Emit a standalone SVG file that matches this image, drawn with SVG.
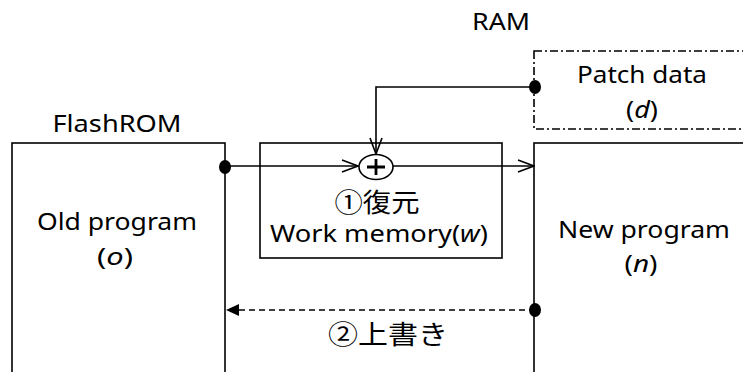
<svg xmlns="http://www.w3.org/2000/svg" width="743" height="372" viewBox="0 0 743 372">
<style>
.box{fill:#fff;stroke:#000;stroke-width:1.6}
.dd{fill:#fff;stroke:#000;stroke-width:1.6;stroke-dasharray:8,3,2,3}
.t{font-family:"Noto Sans","Noto Sans CJK JP",sans-serif;font-size:23.5px;fill:#000;text-anchor:middle}
.j{font-family:"Noto Sans CJK JP",sans-serif;font-size:26px;fill:#000;text-anchor:middle}
.ln{fill:none;stroke:#000;stroke-width:1.6}
.dash{fill:none;stroke:#000;stroke-width:1.6;stroke-dasharray:6,4}
.dot{fill:#000}
</style>
<defs>
<marker id="open" viewBox="0 0 18 14" refX="17" refY="7" markerWidth="18" markerHeight="14" markerUnits="userSpaceOnUse" orient="auto">
<path d="M1,1 L17,7 L1,13" fill="none" stroke="#000" stroke-width="1.6"/>
</marker>
<marker id="fill" viewBox="0 0 13 12" refX="13" refY="6" markerWidth="13" markerHeight="12" markerUnits="userSpaceOnUse" orient="auto">
<path d="M0,0 L13,6 L0,12 z" fill="#000"/>
</marker>
</defs>
<rect width="743" height="372" fill="#fff"/>
<text class="t" x="501" y="30" textLength="58" lengthAdjust="spacingAndGlyphs">RAM</text>
<text class="t" x="117" y="132" textLength="129" lengthAdjust="spacingAndGlyphs">FlashROM</text>
<g id="old">
<rect class="box" x="12" y="143" width="213" height="240"/>
<text class="t" x="117" y="230" textLength="160" lengthAdjust="spacingAndGlyphs">Old program</text>
<text class="t" x="115" y="265" textLength="36" lengthAdjust="spacingAndGlyphs">(<tspan font-style="italic">o</tspan>)</text>
</g>
<g id="work">
<rect class="box" x="260" y="143" width="242" height="115"/>
<text class="j" x="377" y="212" textLength="85" lengthAdjust="spacingAndGlyphs">①復元</text>
<text class="t" x="379" y="242" textLength="218" lengthAdjust="spacingAndGlyphs">Work memory(<tspan font-style="italic">w</tspan>)</text>
</g>
<g id="new">
<rect class="box" x="534" y="143" width="230" height="240"/>
<text class="t" x="644" y="238" textLength="172" lengthAdjust="spacingAndGlyphs">New program</text>
<text class="t" x="641" y="272" textLength="33" lengthAdjust="spacingAndGlyphs">(<tspan font-style="italic">n</tspan>)</text>
</g>
<g id="patch">
<rect class="dd" x="534" y="51" width="230" height="78"/>
<text class="t" x="642" y="83" textLength="130" lengthAdjust="spacingAndGlyphs">Patch data</text>
<text class="t" x="642" y="118" textLength="32" lengthAdjust="spacingAndGlyphs">(<tspan font-style="italic">d</tspan>)</text>
</g>
<g id="xor">
<ellipse cx="376" cy="167" rx="17" ry="12.5" fill="#fff" stroke="#000" stroke-width="1.6"/>
<path d="M367,167 H385 M376,159 V175" stroke="#000" stroke-width="2.8" fill="none"/>
</g>
<g id="connectors">
<path class="ln" d="M225,166 H358" marker-end="url(#open)"/>
<path class="ln" d="M393,166 H534" marker-end="url(#open)"/>
<path class="ln" d="M535,87 H376 V154" marker-end="url(#open)"/>
<path class="dash" d="M535,310 H226" marker-end="url(#fill)"/>
<ellipse class="dot" cx="225" cy="167" rx="6" ry="7"/>
<ellipse class="dot" cx="535" cy="87" rx="6" ry="7"/>
<ellipse class="dot" cx="535" cy="310" rx="6" ry="7"/>
</g>
<text class="j" x="388" y="344" textLength="120" lengthAdjust="spacingAndGlyphs">②上書き</text>
</svg>
